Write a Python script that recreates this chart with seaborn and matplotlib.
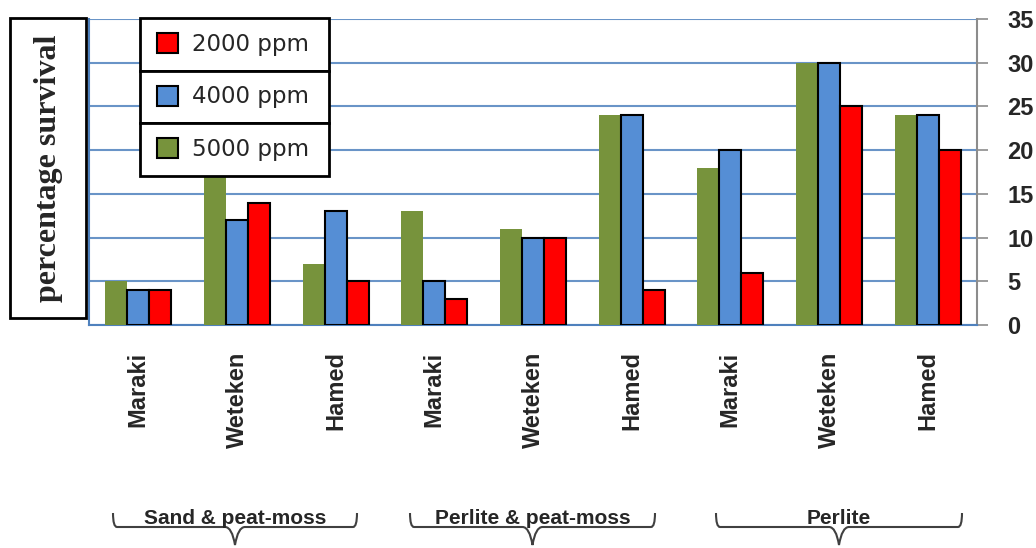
import matplotlib
matplotlib.use("Agg")
import matplotlib.pyplot as plt
import seaborn as sns
import pandas as pd
from matplotlib.patches import Rectangle, PathPatch
from matplotlib.path import Path

# data
substrates = ["Sand & peat-moss", "Perlite & peat-moss", "Perlite"]
cultivars = ["Maraki", "Weteken", "Hamed"]
doses = ["5000 ppm", "4000 ppm", "2000 ppm"]
ppm5000 = [5, 18, 7, 13, 11, 24, 18, 30, 24]
ppm4000 = [4, 12, 13, 5, 10, 24, 20, 30, 24]
ppm2000 = [4, 14, 5, 3, 10, 4, 6, 25, 20]
colors = {"5000 ppm": "#77933C", "4000 ppm": "#558ED5", "2000 ppm": "#FF0000"}

slots = [f"{s}|{c}" for s in substrates for c in cultivars]
rows = []
for dose, vals in zip(doses, [ppm5000, ppm4000, ppm2000]):
    for slot, v in zip(slots, vals):
        rows.append({"slot": slot, "dose": dose, "survival": v})
df = pd.DataFrame(rows)

sns.set_style("white")
fig = plt.figure(figsize=(10.36, 5.48), dpi=100)
W, H = 1036, 548
ax = fig.add_axes([89 / W, 1 - 325 / H, (977 - 89) / W, (325 - 19) / H])

sns.barplot(data=df, x="slot", y="survival", hue="dose", order=slots,
            hue_order=doses, palette=colors, width=0.67, saturation=1,
            ax=ax, legend=False)

for cont, dose in zip(ax.containers, doses):
    for bar in cont:
        if dose == "5000 ppm":
            bar.set_edgecolor("none")
        else:
            bar.set_edgecolor("black")
            bar.set_linewidth(1.5)
        bar.set_zorder(3)

ax.set_ylim(0, 35)
ax.set_xlim(-0.5, len(slots) - 0.5)
ax.set_yticks(range(0, 36, 5))
ax.yaxis.tick_right()
ax.yaxis.grid(True, color="#4F81BD", linewidth=1.5, alpha=0.85)
ax.set_axisbelow(True)
ax.tick_params(axis="y", direction="out", length=8, width=1.2, color="#8C8C8C",
               pad=14, labelsize=17)
for lab in ax.get_yticklabels():
    lab.set_fontweight("bold")
    lab.set_fontfamily("Liberation Sans")

ax.set_xticks(range(len(slots)))
ax.set_xticklabels([s.split("|")[1] for s in slots], rotation=90,
                   fontsize=17, fontweight="bold", family="Liberation Sans",
                   va="top")
ax.tick_params(axis="x", length=0, pad=19)
ax.set_xlabel("")
ax.set_ylabel("")

for side in ["bottom", "left"]:
    ax.spines[side].set_color("#4F81BD")
    ax.spines[side].set_linewidth(1.5)
ax.spines["top"].set_visible(False)
ax.spines["right"].set_color("#8C8C8C")
ax.spines["right"].set_linewidth(1.5)

# y label box
fig.patches.append(Rectangle((10 / W, 1 - 318 / H), 76 / W, 300 / H,
                             transform=fig.transFigure, fill=False,
                             edgecolor="black", linewidth=2))
fig.text(49 / W, 1 - 168 / H, "percentage survival", rotation=90,
         ha="center", va="center", fontsize=23, fontweight="bold",
         family="Liberation Serif")

# legend boxes, stacked
box_x0, box_x1 = 140 / W, 329 / W
edges = [18, 71, 123, 176]
for i, dose in enumerate(["2000 ppm", "4000 ppm", "5000 ppm"]):
    top, bot = edges[i], edges[i + 1]
    fig.patches.append(Rectangle((box_x0, 1 - bot / H), box_x1 - box_x0,
                                 (bot - top) / H, transform=fig.transFigure,
                                 facecolor="white", edgecolor="black",
                                 linewidth=2, zorder=5))
    proxy = Rectangle((0, 0), 1, 1, facecolor=colors[dose],
                      edgecolor="black", linewidth=1.5)
    leg = fig.legend([proxy], [dose], loc="center left",
                     bbox_to_anchor=(136 / W, 1 - (top + bot) / 2 / H),
                     frameon=False, handlelength=0.95,
                     handleheight=0.95, handletextpad=0.6,
                     prop={"family": "DejaVu Sans", "size": 16.5})
    leg.set_zorder(6)

# group braces with labels
def brace(x0, x1, ytop=513, yline=527, ytip=545):
    xm = (x0 + x1) / 2
    pts = [(x0, ytop), (x0, yline), (x0 + 4, yline), (x0 + 14, yline),
           (xm - 10, yline), (xm - 3, yline), (xm, ytip),
           (xm + 3, yline), (xm + 10, yline),
           (x1 - 14, yline), (x1 - 4, yline), (x1, yline), (x1, ytop)]
    codes = [Path.MOVETO, Path.CURVE3, Path.CURVE3, Path.LINETO,
             Path.LINETO, Path.CURVE3, Path.CURVE3, Path.CURVE3, Path.CURVE3,
             Path.LINETO, Path.LINETO, Path.CURVE3, Path.CURVE3]
    verts = [(x / W, 1 - y / H) for x, y in pts]
    fig.patches.append(PathPatch(Path(verts, codes), transform=fig.transFigure,
                                 fill=False, edgecolor="#404040", linewidth=1.5))

for name, (x0, x1) in zip(substrates, [(113, 357), (410, 655), (716, 962)]):
    brace(x0, x1)
    fig.text((x0 + x1) / 2 / W, 1 - 518 / H, name, ha="center", va="center",
             fontsize=15, fontweight="bold", family="Liberation Sans")

fig.savefig("out.png", dpi=100)
